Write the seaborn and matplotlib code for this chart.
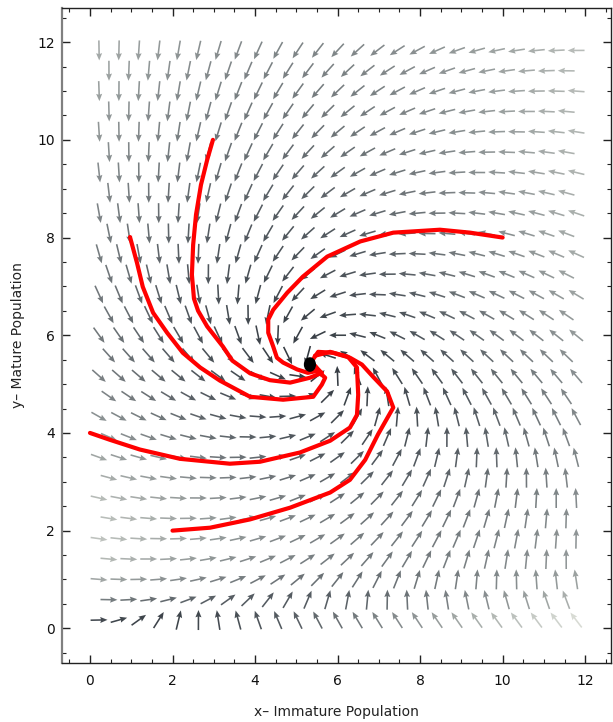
import numpy as np
import matplotlib
matplotlib.use("Agg")
import matplotlib.pyplot as plt
import seaborn as sns
from matplotlib.colors import LinearSegmentedColormap
from matplotlib.patches import Ellipse

# Stage-structured population model: immature x, mature y
birth = 19.5          # recruitment rate from mature adults
crowding = 0.52       # density dependence of recruitment
loss_immature = 1.15  # loss + maturation of immatures
maturation = 1.0      # maturation / adult turnover


def field(x, y):
    dx = birth * y * np.exp(-crowding * y) - loss_immature * x
    dy = maturation * (x - y)
    return dx, dy


# Solution curves (x, y) from five initial states
traj1_x = [2.98, 2.84, 2.69, 2.57, 2.50, 2.47, 2.52, 2.62, 2.84, 3.22, 3.45, 3.88, 4.36, 4.85, 5.33, 5.62, 5.45]
traj1_y = [10.0, 9.59, 9.08, 8.47, 7.85, 7.24, 6.75, 6.50, 6.18, 5.77, 5.48, 5.22, 5.08, 5.03, 5.13, 5.23, 5.35]

traj2_x = [0.97, 1.14, 1.28, 1.53, 1.87, 2.25, 2.67, 3.15, 3.88, 4.68, 5.41, 5.62, 5.70, 5.53, 5.40]
traj2_y = [8.01, 7.48, 6.99, 6.46, 6.05, 5.64, 5.34, 5.07, 4.74, 4.68, 4.74, 4.99, 5.13, 5.26, 5.36]

traj3_x = [10.0, 9.21, 8.48, 7.35, 6.55, 5.75, 5.16, 4.78, 4.44, 4.32, 4.32, 4.44, 4.53, 4.68, 5.02, 5.28, 5.55, 5.45]
traj3_y = [8.00, 8.10, 8.16, 8.10, 7.92, 7.61, 7.20, 6.87, 6.52, 6.32, 6.05, 5.77, 5.54, 5.44, 5.30, 5.23, 5.28, 5.38]

traj4_x = [0.00, 0.48, 1.21, 2.18, 3.39, 4.12, 5.09, 5.82, 6.30, 6.47, 6.50, 6.47, 6.25, 5.82, 5.45]
traj4_y = [4.00, 3.86, 3.66, 3.47, 3.37, 3.41, 3.60, 3.84, 4.11, 4.37, 4.78, 5.34, 5.56, 5.66, 5.58]

traj5_x = [2.00, 2.91, 3.88, 4.85, 5.82, 6.30, 6.67, 6.98, 7.35, 7.20, 6.86, 6.59, 6.30, 5.89, 5.53, 5.40]
traj5_y = [2.00, 2.06, 2.23, 2.47, 2.78, 3.04, 3.45, 3.97, 4.52, 4.85, 5.15, 5.40, 5.54, 5.64, 5.66, 5.50]

equilibrium_x = [5.33]
equilibrium_y = [5.40]

x_ticks = [0, 2, 4, 6, 8, 10, 12]
y_ticks = [0, 2, 4, 6, 8, 10, 12]

sns.set_theme(style="white")
plt.rcParams["font.family"] = ["DejaVu Sans"]

fig = plt.figure(figsize=(6.13, 7.22), dpi=100)
ax = fig.add_axes([0.101, 0.0817, 0.896, 0.9073])

# staggered sample grid for the direction field
rows = np.linspace(0.17, 11.83, 29)
gx, gy = [], []
for i, yv in enumerate(rows):
    cols = np.linspace(0.22, 11.78, 25) if i % 2 == 0 else np.linspace(0.46, 11.54, 24)
    gx.extend(cols)
    gy.extend([yv] * len(cols))
gx = np.array(gx)
gy = np.array(gy)
u, v = field(gx, gy)
mag = np.hypot(u, v)
arrow_len = 0.41
un = u / mag * arrow_len
vn = v / mag * arrow_len

cmap = LinearSegmentedColormap.from_list(
    "field_gray", ["#30363d", "#555c62", "#959b9b", "#d8dbd4"])
ax.quiver(gx, gy, un, vn, mag / mag.max(), cmap=cmap, clim=(0, 1),
          angles="xy", scale_units="xy", scale=1, pivot="middle",
          width=0.0029, headwidth=3.8, headlength=4.6, headaxislength=4.1,
          zorder=2)

for tx, ty in [(traj1_x, traj1_y), (traj2_x, traj2_y), (traj3_x, traj3_y),
               (traj4_x, traj4_y), (traj5_x, traj5_y)]:
    sns.lineplot(x=tx, y=ty, sort=False, estimator=None, color="#ff0000",
                 linewidth=3.0, ax=ax, zorder=3)

for ex, ey in zip(equilibrium_x, equilibrium_y):
    ax.add_patch(Ellipse((ex, ey), 0.26, 0.27, color="black", zorder=4))

ax.set_xlim(-0.68, 12.63)
ax.set_ylim(-0.71, 12.70)
ax.set_xticks(x_ticks)
ax.set_yticks(y_ticks)
ax.xaxis.set_minor_locator(matplotlib.ticker.MultipleLocator(0.5))
ax.yaxis.set_minor_locator(matplotlib.ticker.MultipleLocator(0.5))
ax.tick_params(which="both", direction="in", top=True, right=True,
               bottom=True, left=True, colors="#222222", labelcolor="#111111")
ax.tick_params(which="major", length=6, width=1.0, labelsize=10)
ax.tick_params(which="minor", length=3, width=0.8)
ax.tick_params(axis="x", which="major", pad=8)
ax.tick_params(axis="y", which="major", pad=5)

for side in ["top", "right", "bottom"]:
    ax.spines[side].set_color("#222222")
    ax.spines[side].set_linewidth(1.0)
ax.spines["left"].set_color("#808080")
ax.spines["left"].set_linewidth(1.6)

ax.set_xlabel("x\u2013 Immature Population", fontsize=10, labelpad=12, color="#222222")
ax.set_ylabel("y\u2013 Mature Population", fontsize=10, labelpad=9, color="#222222")

fig.savefig("out.png", dpi=100)
